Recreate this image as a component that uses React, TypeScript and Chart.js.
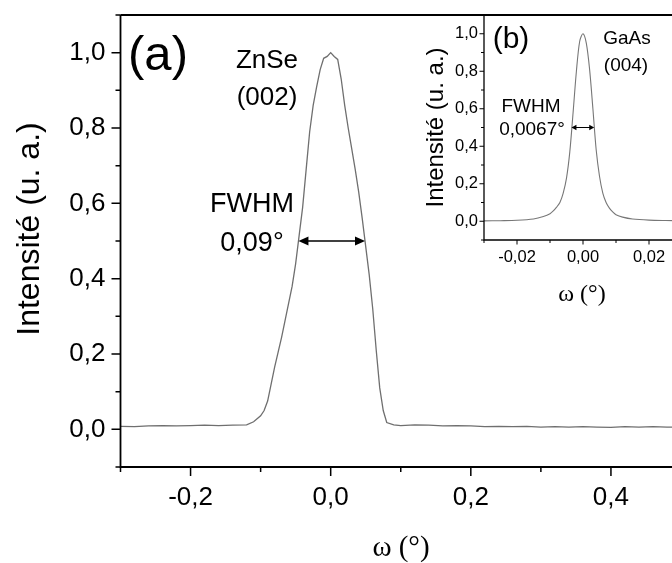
import React, { useEffect, useRef } from 'react';
import { Chart, registerables } from 'chart.js';

Chart.register(...registerables);

// ---- Main panel (a): ZnSe (002) rocking curve ----
const mainX = [
  -0.30, -0.28, -0.26, -0.24, -0.22, -0.20, -0.18, -0.16, -0.14, -0.12, -0.11, -0.10, -0.095, -0.09,
  -0.085, -0.08, -0.075, -0.07, -0.065, -0.06, -0.055, -0.05, -0.045, -0.04, -0.035, -0.03, -0.025,
  -0.02, -0.015, -0.01, -0.005, 0, 0.005, 0.01, 0.015, 0.02, 0.025, 0.03, 0.035, 0.04, 0.045, 0.05,
  0.055, 0.06, 0.065, 0.07, 0.075, 0.08, 0.09, 0.10, 0.12, 0.14, 0.16, 0.18, 0.20, 0.22, 0.24, 0.26,
  0.28, 0.30, 0.32, 0.34, 0.36, 0.38, 0.40, 0.42, 0.44, 0.46, 0.48, 0.50,
];
const mainY = [
  0.008, 0.007, 0.009, 0.010, 0.009, 0.010, 0.011, 0.010, 0.011, 0.012, 0.020, 0.036, 0.050, 0.075,
  0.12, 0.165, 0.205, 0.245, 0.29, 0.335, 0.38, 0.44, 0.515, 0.59, 0.69, 0.79, 0.86,
  0.91, 0.955, 0.985, 0.99, 1.0, 0.99, 0.982, 0.93, 0.86, 0.80, 0.745, 0.69, 0.63, 0.56, 0.485,
  0.41, 0.32, 0.21, 0.11, 0.05, 0.018, 0.012, 0.010, 0.012, 0.011, 0.009, 0.010, 0.009, 0.007, 0.008, 0.007,
  0.008, 0.006, 0.007, 0.006, 0.007, 0.006, 0.005, 0.007, 0.006, 0.007, 0.006, 0.006,
];
const mainXTicks = [-0.2, 0.0, 0.2, 0.4];
const mainYTicks = [0.0, 0.2, 0.4, 0.6, 0.8, 1.0];
const mainFwhm = [-0.046, 0.049];

// ---- Inset (b): GaAs (004) ----
const insetX = [
  -0.030, -0.025, -0.020, -0.015, -0.012, -0.010, -0.009, -0.008, -0.007, -0.006, -0.005, -0.004,
  -0.003, -0.002, -0.001, 0.000, 0.001, 0.002, 0.003, 0.004, 0.005, 0.006, 0.007, 0.008, 0.009,
  0.010, 0.012, 0.015, 0.020, 0.025, 0.030,
];
const insetY = [
  0.002, 0.003, 0.005, 0.012, 0.025, 0.040, 0.055, 0.075, 0.10, 0.15, 0.23, 0.37,
  0.58, 0.80, 0.96, 1.0, 0.95, 0.81, 0.60, 0.38, 0.24, 0.15, 0.10, 0.07, 0.05,
  0.035, 0.022, 0.012, 0.006, 0.004, 0.003,
];
const insetXTicks = [-0.02, 0.0, 0.02];
const insetYTicks = [0.0, 0.2, 0.4, 0.6, 0.8, 1.0];
const insetFwhm = [-0.0035, 0.0034];

const SANS = '"Liberation Sans", Arial, sans-serif';
const SERIF = '"Liberation Serif", "Times New Roman", serif';

const fmt = (v: number, d: number) => v.toFixed(d).replace('.', ',');

function drawText(ctx: CanvasRenderingContext2D, s: string, x: number, y: number, font: string, align: CanvasTextAlign = 'center', rot = 0) {
  ctx.save();
  ctx.font = font;
  ctx.fillStyle = '#000';
  ctx.textAlign = align;
  ctx.textBaseline = 'alphabetic';
  ctx.translate(x, y);
  if (rot) ctx.rotate(rot);
  ctx.fillText(s, 0, 0);
  ctx.restore();
}

function drawArrow(ctx: CanvasRenderingContext2D, x1: number, x2: number, y: number, head: number, half: number, lw: number) {
  ctx.save();
  ctx.strokeStyle = '#000';
  ctx.fillStyle = '#000';
  ctx.lineWidth = lw;
  ctx.beginPath();
  ctx.moveTo(x1 + head * 0.8, y);
  ctx.lineTo(x2 - head * 0.8, y);
  ctx.stroke();
  ctx.beginPath();
  ctx.moveTo(x1, y);
  ctx.lineTo(x1 + head, y - half);
  ctx.lineTo(x1 + head, y + half);
  ctx.closePath();
  ctx.fill();
  ctx.beginPath();
  ctx.moveTo(x2, y);
  ctx.lineTo(x2 - head, y - half);
  ctx.lineTo(x2 - head, y + half);
  ctx.closePath();
  ctx.fill();
  ctx.restore();
}

type FrameCfg = {
  id: string;
  box: boolean;
  axisWidth: number;
  tickWidth: number;
  majorLen: number;
  minorLen: number;
  xMinor: number; xMajor: number;
  yMinor: number; yMajor: number;
  extra: (ctx: CanvasRenderingContext2D, chart: any) => void;
};

function framePlugin(cfg: FrameCfg) {
  return {
    id: cfg.id,
    afterDraw(chart: any) {
      const { ctx, chartArea: a, scales } = chart;
      const x = scales.x, y = scales.y;
      ctx.save();
      ctx.strokeStyle = '#000';
      ctx.lineWidth = cfg.axisWidth;
      ctx.beginPath();
      ctx.moveTo(a.left, a.top);
      ctx.lineTo(a.left, a.bottom);
      ctx.lineTo(a.right, a.bottom);
      if (cfg.box) {
        ctx.moveTo(a.left, a.top);
        ctx.lineTo(a.right, a.top);
        ctx.lineTo(a.right, a.bottom);
      }
      ctx.stroke();
      ctx.lineWidth = cfg.tickWidth;
      ctx.beginPath();
      const isMajor = (v: number, step: number) => Math.abs(v / step - Math.round(v / step)) < 1e-6;
      for (let i = 0; ; i++) {
        const v = x.min + i * cfg.xMinor;
        if (v > x.max + 1e-6) break;
        const px = x.getPixelForValue(v);
        ctx.moveTo(px, a.bottom);
        ctx.lineTo(px, a.bottom + (isMajor(v, cfg.xMajor) ? cfg.majorLen : cfg.minorLen));
      }
      for (let i = 0; ; i++) {
        const v = y.min + i * cfg.yMinor;
        if (v > y.max + 1e-6) break;
        const py = y.getPixelForValue(v);
        ctx.moveTo(a.left, py);
        ctx.lineTo(a.left - (isMajor(v, cfg.yMajor) ? cfg.majorLen : cfg.minorLen), py);
      }
      ctx.stroke();
      ctx.restore();
      cfg.extra(ctx, chart);
    },
  };
}

export default function App() {
  const mainRef = useRef<HTMLCanvasElement>(null);
  const insetRef = useRef<HTMLCanvasElement>(null);

  useEffect(() => {
    const hiddenGrid = (len: number) => ({
      display: true,
      drawOnChartArea: false,
      drawTicks: true,
      tickLength: len,
      color: 'rgba(0,0,0,0)',
    });

    const mainPlugin = framePlugin({
      id: 'mainFrame',
      box: true,
      axisWidth: 1.8,
      tickWidth: 1.5,
      majorLen: 9,
      minorLen: 5,
      xMinor: 0.1, xMajor: 0.2,
      yMinor: 0.1, yMajor: 0.2,
      extra: (ctx, chart) => {
        const { x, y } = chart.scales;
        drawText(ctx, '(a)', 158, 70, `49px ${SANS}`);
        drawText(ctx, 'ZnSe', 267, 68, `26px ${SANS}`);
        drawText(ctx, '(002)', 267, 105, `26px ${SANS}`);
        drawText(ctx, 'FWHM', 252, 212, `27px ${SANS}`);
        drawText(ctx, '0,09°', 252, 251, `27px ${SANS}`);
        drawArrow(ctx, x.getPixelForValue(mainFwhm[0]), x.getPixelForValue(mainFwhm[1]), y.getPixelForValue(0.5), 10, 4.5, 1.6);
        drawText(ctx, 'Intensité (u. a.)', 39, 229, `32px ${SANS}`, 'center', -Math.PI / 2);
        drawText(ctx, 'ω (°)', 401, 556, `29px ${SERIF}`);
      },
    });

    const main = new Chart(mainRef.current!, {
      type: 'line',
      data: {
        datasets: [{
          data: mainX.map((v, i) => ({ x: v, y: mainY[i] })),
          borderColor: '#6f6f6f',
          borderWidth: 1.3,
          pointRadius: 0,
          tension: 0,
          fill: false,
        }],
      },
      options: {
        animation: false,
        responsive: false,
        maintainAspectRatio: false,
        layout: { padding: { top: 15, right: 19, left: 0, bottom: 0 } },
        plugins: { legend: { display: false }, tooltip: { enabled: false } },
        scales: {
          x: {
            type: 'linear',
            min: -0.3,
            max: 0.5,
            afterBuildTicks: (s: any) => { s.ticks = mainXTicks.map((v) => ({ value: v })); },
            afterFit: (s: any) => { s.height = 96; },
            grid: hiddenGrid(9),
            border: { display: false },
            ticks: {
              padding: 6,
              color: '#000',
              font: { family: SANS, size: 26 },
              maxRotation: 0,
              autoSkip: false,
              callback: (v: any) => fmt(Number(v), 1),
            },
          },
          y: {
            type: 'linear',
            min: -0.1,
            max: 1.1,
            afterBuildTicks: (s: any) => { s.ticks = mainYTicks.map((v) => ({ value: v })); },
            afterFit: (s: any) => { s.width = 120.5; },
            grid: hiddenGrid(15),
            border: { display: false },
            ticks: {
              padding: 0,
              color: '#000',
              font: { family: SANS, size: 26, lineHeight: 1 },
              autoSkip: false,
              callback: (v: any) => fmt(Number(v), 1),
            },
          },
        },
      },
      plugins: [mainPlugin],
    } as any);

    const insetPlugin = framePlugin({
      id: 'insetFrame',
      box: false,
      axisWidth: 1.3,
      tickWidth: 1,
      majorLen: 4.5,
      minorLen: 3,
      xMinor: 0.01, xMajor: 0.02,
      yMinor: 0.1, yMajor: 0.2,
      extra: (ctx, chart) => {
        const { x, y } = chart.scales;
        drawText(ctx, '(b)', 111, 48, `30px ${SANS}`);
        drawText(ctx, 'GaAs', 227, 44, `19px ${SANS}`);
        drawText(ctx, '(004)', 226, 71, `19px ${SANS}`);
        drawText(ctx, 'FWHM', 131, 112, `19px ${SANS}`);
        drawText(ctx, '0,0067°', 132, 135, `19px ${SANS}`);
        drawArrow(ctx, x.getPixelForValue(insetFwhm[0]), x.getPixelForValue(insetFwhm[1]), y.getPixelForValue(0.5), 5, 2.8, 1);
        drawText(ctx, 'Intensité (u. a.)', 43, 127.5, `24px ${SANS}`, 'center', -Math.PI / 2);
        drawText(ctx, 'ω (°)', 182, 301, `24px ${SERIF}`);
      },
    });

    const inset = new Chart(insetRef.current!, {
      type: 'line',
      data: {
        datasets: [{
          data: insetX.map((v, i) => ({ x: v, y: insetY[i] })),
          borderColor: '#777777',
          borderWidth: 1.1,
          pointRadius: 0,
          tension: 0.3,
          fill: false,
        }],
      },
      options: {
        animation: false,
        responsive: false,
        maintainAspectRatio: false,
        layout: { padding: { top: 15, right: 18, left: 0, bottom: 0 } },
        plugins: { legend: { display: false }, tooltip: { enabled: false } },
        scales: {
          x: {
            type: 'linear',
            min: -0.03,
            max: 0.03,
            afterBuildTicks: (s: any) => { s.ticks = insetXTicks.map((v) => ({ value: v })); },
            afterFit: (s: any) => { s.height = 80; },
            grid: hiddenGrid(4.5),
            border: { display: false },
            ticks: {
              padding: 3,
              color: '#000',
              font: { family: SANS, size: 16.5 },
              maxRotation: 0,
              autoSkip: false,
              callback: (v: any) => fmt(Number(v), 2),
            },
          },
          y: {
            type: 'linear',
            min: -0.1,
            max: 1.1,
            afterBuildTicks: (s: any) => { s.ticks = insetYTicks.map((v) => ({ value: v })); },
            afterFit: (s: any) => { s.width = 84; },
            grid: hiddenGrid(6),
            border: { display: false },
            ticks: {
              padding: 0,
              color: '#000',
              font: { family: SANS, size: 16.5, lineHeight: 1 },
              autoSkip: false,
              callback: (v: any) => fmt(Number(v), 1),
            },
          },
        },
      },
      plugins: [insetPlugin],
    } as any);

    return () => {
      main.destroy();
      inset.destroy();
    };
  }, []);

  return (
    <div style={{ position: 'fixed', left: 0, top: 0, width: 672, height: 563, overflow: 'hidden', background: '#fff' }}>
      <canvas ref={mainRef} width={700} height={563} style={{ position: 'absolute', left: 0, top: 0, width: 700, height: 563 }} />
      <canvas ref={insetRef} width={300} height={320} style={{ position: 'absolute', left: 400, top: 0, width: 300, height: 320 }} />
    </div>
  );
}
